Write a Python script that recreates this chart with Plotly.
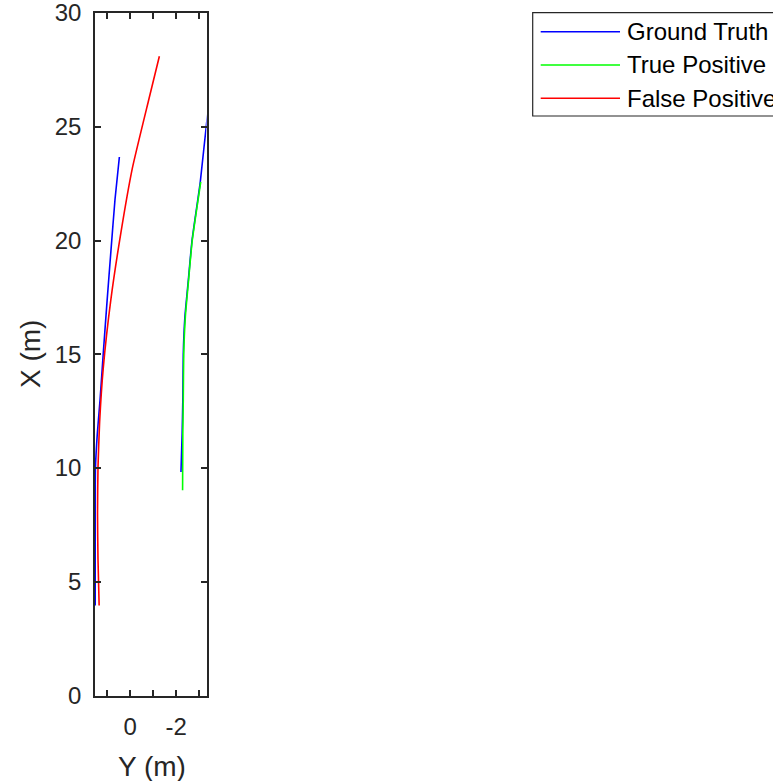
import plotly.graph_objects as go

# ---- data (X = forward distance in m, Y = lateral offset in m) ----
gt_left_x = [3.96, 6.0, 8.0, 10.0, 11.5, 13.0, 15.05, 17.4, 19.5, 21.8, 23.67]
gt_left_y = [1.52, 1.52, 1.52, 1.51, 1.43, 1.31, 1.17, 1.00, 0.84, 0.66, 0.47]

gt_right_x = [9.82, 11.5, 13.0, 15.0, 16.64, 18.26, 20.0, 22.58, 25.3, 26.5]
gt_right_y = [-2.21, -2.26, -2.29, -2.31, -2.38, -2.53, -2.69, -3.05, -3.34, -3.52]

tp_x = [9.02, 11.5, 13.0, 15.0, 16.64, 18.26, 20.0, 22.58]
tp_y = [-2.28, -2.29, -2.31, -2.33, -2.40, -2.54, -2.70, -3.07]

fp_x = [3.96, 6.0, 8.0, 10.0, 12.0, 14.4, 17.4, 20.3, 23.2, 26.2, 28.1]
fp_y = [1.35, 1.40, 1.42, 1.40, 1.33, 1.17, 0.84, 0.41, -0.10, -0.81, -1.27]

series_names = ["Ground Truth", "True Positive", "False Positive"]
series_colors = ["#0000ff", "#00ff00", "#ff0000"]

x_tick_vals = [1, 0, -1, -2, -3]
x_tick_text = ["", "0", "", "-2", ""]
y_tick_vals = [0, 5, 10, 15, 20, 25, 30]

W, H = 773, 781
FONT = "Liberation Sans, Arial, Helvetica, sans-serif"
INK = "#262626"

fig = go.Figure()
line_kw = dict(width=1.6, shape="spline", smoothing=0.5)
# plot Y (lateral) on the horizontal axis, X (forward) on the vertical axis
fig.add_trace(go.Scatter(x=gt_left_y, y=gt_left_x, mode="lines", name=series_names[0],
                         line=dict(color=series_colors[0], **line_kw), showlegend=False))
fig.add_trace(go.Scatter(x=gt_right_y, y=gt_right_x, mode="lines", name=series_names[0],
                         line=dict(color=series_colors[0], **line_kw), showlegend=False))
fig.add_trace(go.Scatter(x=tp_y, y=tp_x, mode="lines", name=series_names[1],
                         line=dict(color=series_colors[1], **line_kw), showlegend=False))
fig.add_trace(go.Scatter(x=fp_y, y=fp_x, mode="lines", name=series_names[2],
                         line=dict(color=series_colors[2], **line_kw), showlegend=False))

def px(x):
    return x / W

def py(y):
    return 1 - y / H

axis_common = dict(showgrid=False, zeroline=False, showline=True, linecolor=INK,
                   linewidth=1.5, ticks="inside", ticklen=6, tickwidth=1.5,
                   tickcolor=INK, mirror="ticks", automargin=False,
                   ticklabeloverflow="allow",
                   tickfont=dict(family=FONT, size=24, color=INK))

fig.update_layout(
    width=W, height=H, autosize=False,
    margin=dict(l=0, r=0, t=0, b=0),
    paper_bgcolor="white", plot_bgcolor="white",
    font=dict(family=FONT, color=INK),
    xaxis=dict(domain=[px(95), px(206.5)], range=[1.53, -3.32],
               tickvals=x_tick_vals, ticktext=x_tick_text, ticklabelstandoff=9,
               **axis_common),
    yaxis=dict(domain=[py(695.5), py(13)], range=[0, 30],
               tickvals=y_tick_vals, ticklabelstandoff=7,
               **axis_common),
    showlegend=False,
)

# axis titles
annotations = [
    dict(xref="paper", yref="paper", x=px(152), y=py(766), xanchor="center",
         yanchor="middle", showarrow=False, text="Y (m)",
         font=dict(family=FONT, size=28, color=INK)),
    dict(xref="paper", yref="paper", x=px(30), y=py(354), xanchor="center",
         yanchor="middle", showarrow=False, text="X (m)", textangle=-90,
         font=dict(family=FONT, size=28, color=INK)),
]

# legend box drawn in figure (paper) coordinates
shapes = [dict(type="rect", xref="paper", yref="paper",
               x0=px(532.7), x1=px(800), y0=py(116), y1=py(12.7),
               line=dict(color=INK, width=1.2), fillcolor="white", layer="above")]
row_y = [31.7, 65.0, 98.3]
for name, color, ry in zip(series_names, series_colors, row_y):
    shapes.append(dict(type="line", xref="paper", yref="paper",
                       x0=px(540.7), x1=px(620), y0=py(ry), y1=py(ry),
                       line=dict(color=color, width=1.6), layer="above"))
    annotations.append(dict(xref="paper", yref="paper", x=px(625), y=py(ry),
                            xanchor="left", yanchor="middle", showarrow=False,
                            text=name, font=dict(family=FONT, size=24, color="#000000")))
fig.update_layout(shapes=shapes, annotations=annotations)

fig.write_html("out.html", config={"displayModeBar": False},
               post_script="document.body.style.margin='0px';document.body.style.overflow='hidden';")
